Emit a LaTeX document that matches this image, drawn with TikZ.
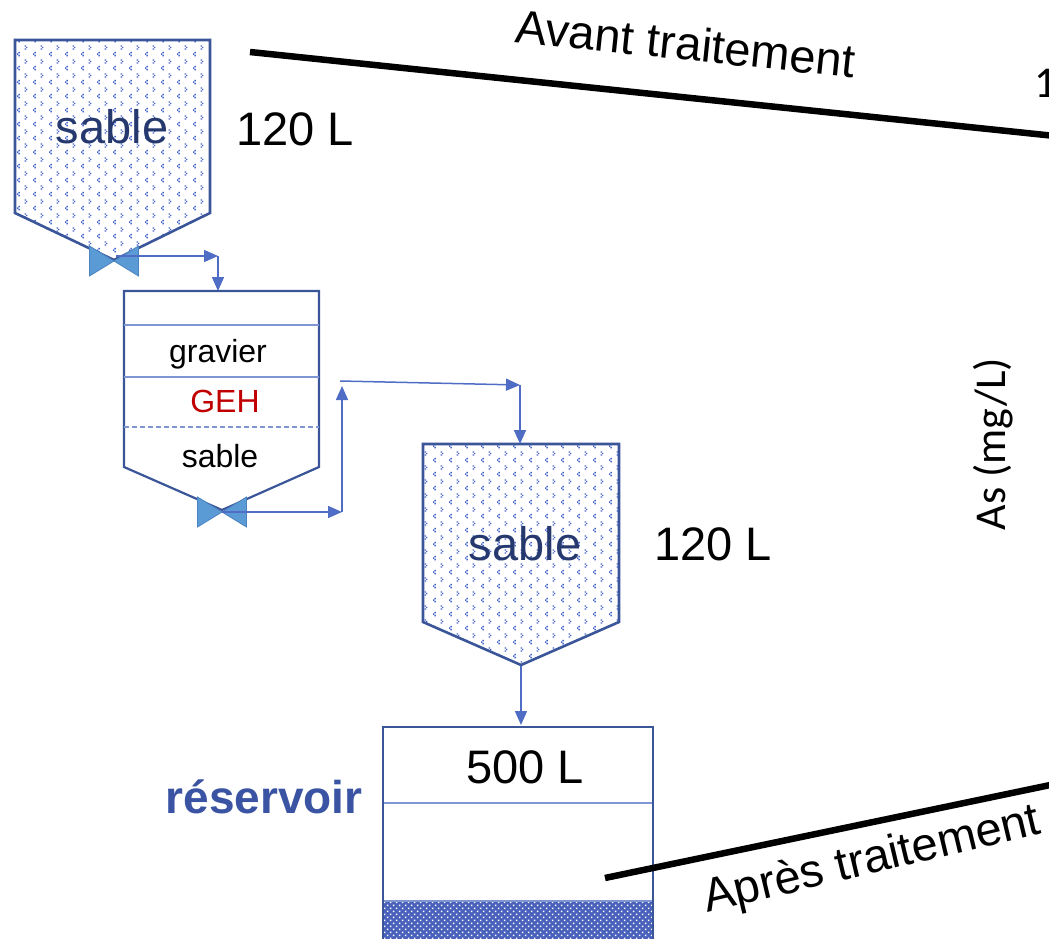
\documentclass[tikz,border=0pt]{standalone}
\usepackage{fontspec}
\setmainfont{Liberation Sans}
\newfontfamily\axisfont{Carlito}
\usetikzlibrary{patterns.meta,arrows.meta}

\definecolor{boxblue}{HTML}{3B5599}
\definecolor{linelight}{HTML}{8096D2}
\definecolor{flowblue}{HTML}{4F6DC5}
\definecolor{valvefill}{HTML}{5B9BD5}
\definecolor{valveedge}{HTML}{4B83BF}
\definecolor{sandtext}{HTML}{26396F}
\definecolor{gehred}{HTML}{C00000}
\definecolor{resblue}{HTML}{3A54A3}
\definecolor{dotblue}{HTML}{3F5FCC}
\definecolor{meshblue}{HTML}{4A61BC}

% sand texture: small chevrons of dots, rows offset by half a step
\tikzdeclarepattern{
  name=sanddots, type=uncolored,
  bottom left={(0pt,0pt)}, top right={(16pt,14pt)}, tile size={(16pt,14pt)},
  code={
    \fill (2.6pt,0.8pt) rectangle ++(1.4pt,1.4pt);
    \fill (1.2pt,2.4pt) rectangle ++(1.4pt,1.4pt);
    \fill (2.6pt,4.0pt) rectangle ++(1.4pt,1.4pt);
    \fill (9.2pt,7.8pt) rectangle ++(1.4pt,1.4pt);
    \fill (10.6pt,9.4pt) rectangle ++(1.4pt,1.4pt);
    \fill (9.2pt,11.0pt) rectangle ++(1.4pt,1.4pt);
  }
}
% sediment texture: white checks on a blue mesh
\tikzdeclarepattern{
  name=checks, type=uncolored,
  bottom left={(0pt,0pt)}, top right={(6.4pt,6.4pt)}, tile size={(6.4pt,6.4pt)},
  code={
    \fill (0.9pt,0.9pt) rectangle (2.7pt,2.7pt);
    \fill (4.1pt,4.1pt) rectangle (5.9pt,5.9pt);
  }
}

\tikzset{
  hopper/.style={draw=boxblue, line width=2.6pt, line join=miter,
    pattern={sanddots}, pattern color=dotblue},
  vessel/.style={draw=boxblue, line width=2.2pt, line join=miter, fill=white},
  layer/.style={draw=linelight, line width=1.4pt},
  flow/.style={draw=flowblue, line width=1.5pt, -{Triangle[length=14pt,width=12pt]}},
  valvepart/.style={fill=valvefill, draw=valveedge, line width=0.8pt, line join=miter},
  bigtxt/.style={inner sep=0pt, anchor=base, font=\fontsize{47}{56}\selectfont},
  midtxt/.style={inner sep=0pt, anchor=base, font=\fontsize{32}{38}\selectfont},
  trend/.style={draw=black, line width=6.5pt},
}

\newcommand{\valveat}[1]{%
  \path[valvepart] (#1) -- ++(-24.5pt,-15pt) -- ++(0pt,30pt) -- cycle;
  \path[valvepart] (#1) -- ++(24.5pt,-15pt) -- ++(0pt,30pt) -- cycle;
}

\begin{document}
\begin{tikzpicture}[x=1pt,y=-1pt]
\useasboundingbox (0,0) rectangle (1049,939);
\clip (0,0) rectangle (1049,939);

% ---------- first sand hopper ----------
\path[hopper] (15,40) -- (210,40) -- (210,213) -- (114,260) -- (15,213) -- cycle;
\node[bigtxt, text=sandtext] (sand1) at (112,143) {sable};
\node[bigtxt] (vol1) at (295,146) {120 L};
\coordinate (v1) at (114,261);
\valveat{v1}

% ---------- GEH filter ----------
\path[vessel] (124,291) -- (319,291) -- (319,467) -- (222,510) -- (124,467) -- cycle;
\draw[layer] (124,325) -- (319,325);
\draw[layer] (124,377) -- (319,377);
\draw[layer, dashed, dash pattern=on 5pt off 3pt, line width=1.1pt] (124,427) -- (319,427);
\node[midtxt] (grav) at (218,362) {gravier};
\node[midtxt, text=gehred] (geh) at (225,412) {GEH};
\node[midtxt] (sand2) at (220,467) {sable};
\coordinate (v2) at (222,512);
\valveat{v2}

% ---------- second sand hopper ----------
\path[hopper] (423,444) -- (619,444) -- (619,622) -- (521,665) -- (423,622) -- cycle;
\node[bigtxt, text=sandtext] (sand3) at (525,560) {sable};
\node[bigtxt] (vol2) at (713,560) {120 L};

% ---------- storage tank ----------
\fill[meshblue] (383,901) rectangle (653,945);
\path[pattern={checks}, pattern color=white] (383,901) rectangle (653,945);
\draw[layer] (383,803) -- (653,803);
\draw[layer] (383,901) -- (653,901);
\draw[draw=boxblue, line width=2.2pt, line join=miter] (383,945) -- (383,727) -- (653,727) -- (653,945);
\node[bigtxt] (vol3) at (525,783) {500 L};
\node[bigtxt, text=resblue, font=\fontsize{46}{55}\selectfont\bfseries] (tank) at (264,813) {réservoir};

% ---------- flow connectors ----------
\coordinate (a1) at (218,256);
\coordinate (t1) at (218,291);
\draw[flow] (v1) ++(2,-5) -- (a1);
\draw[flow] (a1) -- (t1);
\coordinate (a2) at (342,512);
\coordinate (a3) at (342,386);
\draw[flow] (v2) -- (a2);
\draw[flow] (a2) -- (a3);
\coordinate (a3s) at (340,381);
\coordinate (a4) at (520,385);
\coordinate (t3) at (520,444);
\draw[flow] (a3s) -- (a4);
\draw[flow] (a4) -- (t3);
\coordinate (b3) at (521,666);
\coordinate (t4) at (521,725);
\draw[flow] (b3) -- (t4);

% ---------- concentration plot ----------
\coordinate (p1) at (250,52);
\coordinate (p2) at (1055,136);
\draw[trend] (p1) -- (p2);
\node[bigtxt, rotate=-6] (before) at (684,60) {Avant traitement};
\coordinate (q1) at (605,878);
\coordinate (q2) at (1055,784);
\draw[trend] (q1) -- (q2);
\node[bigtxt, rotate=13.4] (after) at (875,873) {Après traitement};
\node[inner sep=0pt, anchor=base, rotate=90, font=\axisfont\fontsize{44}{52}\selectfont] (axis) at (1005,444) {As (mg/L)};
\node[inner sep=0pt, anchor=base west, font=\axisfont\fontsize{44}{52}\selectfont] (tick) at (1034,98) {1};
\end{tikzpicture}
\end{document}
